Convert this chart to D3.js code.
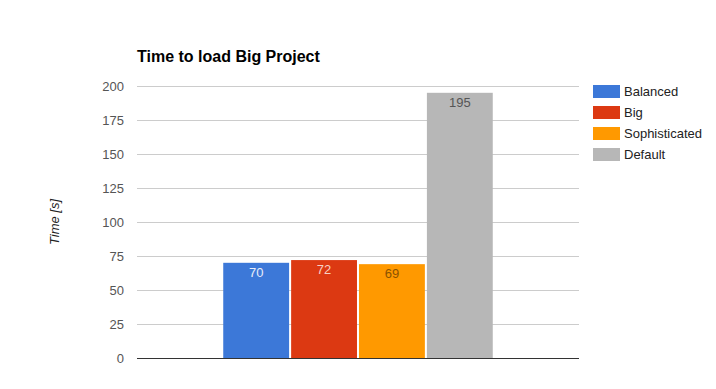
<!DOCTYPE html>
<html>
<head>
<meta charset="utf-8">
<script src="https://cdn.jsdelivr.net/npm/d3@7"></script>
<style>
  body { margin: 0; background: #fff; }
  svg { font-family: "Liberation Sans", Arial, sans-serif; }
</style>
</head>
<body>
<div id="chart"></div>
<script>
// Chart data
const seriesNames = ["Balanced", "Big", "Sophisticated", "Default"];
const seriesValues = [70, 72, 69, 195];
const seriesColors = ["#3c78d8", "#dc3912", "#ff9900", "#b7b7b7"];
const labelColors = ["#e8eefa", "#f6d0c4", "#8a5200", "#555555"];
const yTicks = [0, 25, 50, 75, 100, 125, 150, 175, 200];

const width = 716, height = 389;
const plot = { left: 137, right: 579, top: 86, bottom: 358 };

const svg = d3.select("#chart").append("svg")
    .attr("width", width)
    .attr("height", height);

const y = d3.scaleLinear().domain([0, 200]).range([plot.bottom, plot.top]);

// single category group, centered in the plot
const x0 = d3.scaleBand().domain(["Big Project"]).range([plot.left, plot.right]).paddingInner(0).paddingOuter(0.32);
const x1 = d3.scaleBand().domain(seriesNames).range([0, x0.bandwidth()]).paddingInner(0.03);

// Gridlines
svg.append("g")
    .selectAll("line")
    .data(yTicks.filter(d => d !== 0))
    .join("line")
    .attr("x1", plot.left)
    .attr("x2", plot.right)
    .attr("y1", d => Math.round(y(d)) + 0.5)
    .attr("y2", d => Math.round(y(d)) + 0.5)
    .attr("stroke", "#cccccc");

// Y axis tick labels
svg.append("g")
    .selectAll("text")
    .data(yTicks)
    .join("text")
    .attr("x", 124)
    .attr("y", d => y(d) + 5)
    .attr("text-anchor", "end")
    .attr("font-size", 13)
    .attr("fill", "#555")
    .text(d => d);

// Bars
const group = svg.append("g").attr("transform", `translate(${x0("Big Project")},0)`);

group.selectAll("rect")
    .data(seriesValues)
    .join("rect")
    .attr("x", (d, i) => x1(seriesNames[i]))
    .attr("y", d => y(d))
    .attr("width", x1.bandwidth())
    .attr("height", d => plot.bottom - y(d))
    .attr("fill", (d, i) => seriesColors[i]);

// Value labels inside the bar top
group.selectAll("text")
    .data(seriesValues)
    .join("text")
    .attr("x", (d, i) => x1(seriesNames[i]) + x1.bandwidth() / 2)
    .attr("y", d => y(d) + 14)
    .attr("text-anchor", "middle")
    .attr("font-size", 13)
    .attr("fill", (d, i) => labelColors[i])
    .text(d => d);

// Baseline
svg.append("line")
    .attr("x1", plot.left)
    .attr("x2", plot.right)
    .attr("y1", plot.bottom + 0.5)
    .attr("y2", plot.bottom + 0.5)
    .attr("stroke", "#333");

// Title
svg.append("text")
    .attr("x", 137)
    .attr("y", 62)
    .attr("font-size", 16)
    .attr("font-weight", "bold")
    .attr("fill", "#000")
    .text("Time to load Big Project");

// Y axis title
svg.append("text")
    .attr("transform", `translate(59,222) rotate(-90)`)
    .attr("text-anchor", "middle")
    .attr("font-size", 13)
    .attr("font-style", "italic")
    .attr("fill", "#222")
    .text("Time [s]");

// Legend
const legend = svg.append("g").attr("transform", "translate(593,85)");
const item = legend.selectAll("g")
    .data(seriesNames)
    .join("g")
    .attr("transform", (d, i) => `translate(0,${i * 21})`);

item.append("rect")
    .attr("width", 27)
    .attr("height", 13)
    .attr("fill", (d, i) => seriesColors[i]);

item.append("text")
    .attr("x", 31)
    .attr("y", 11)
    .attr("font-size", 13)
    .attr("fill", "#222")
    .text(d => d);
</script>
</body>
</html>
